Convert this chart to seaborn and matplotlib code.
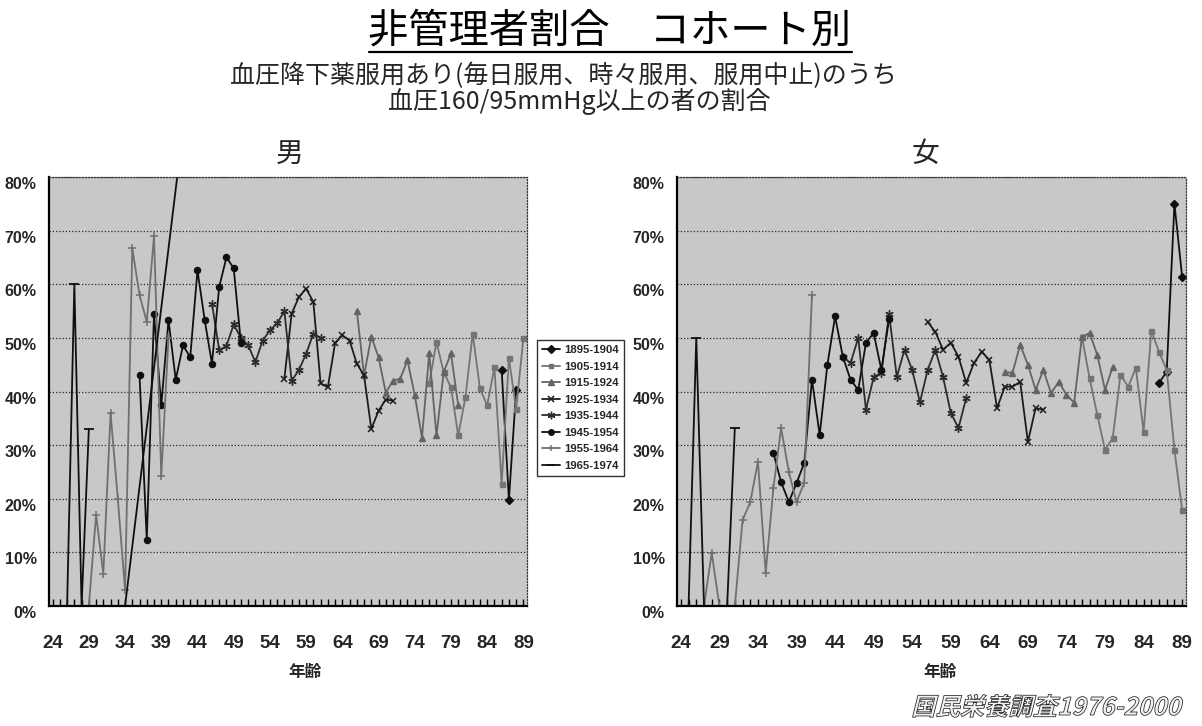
import numpy as np
import pandas as pd
import matplotlib
matplotlib.use("Agg")
import matplotlib.pyplot as plt
import matplotlib.patheffects as pe
import matplotlib.transforms as mtransforms
from matplotlib.lines import Line2D
from matplotlib.ticker import FixedLocator, FuncFormatter
import seaborn as sns

# ---------------------------------------------------------------- data
COHORTS = ["1895-1904", "1905-1914", "1915-1924", "1925-1934",
           "1935-1944", "1945-1954", "1955-1964", "1965-1974"]
AGE_TICKS = [24, 29, 34, 39, 44, 49, 54, 59, 64, 69, 74, 79, 84, 89]
PCT_TICKS = [0, 10, 20, 30, 40, 50, 60, 70, 80]

# each series is a list of segments: (first age, consecutive values in %)
# or ([ages], [values]) for a segment whose points are not on consecutive ages

# men
M_1895 = [(86, [44.1, 19.8, 40.2])]
M_1905 = [(76, [41.5, 49.2, 43.6, 40.8, 31.8, 38.9, 50.8, 40.6, 37.4, 44.5,
                22.8, 46.2, 36.8, 49.9])]
M_1915 = [(66, [55.1, 43.0, 50.2, 46.4, 39.8, 42.0, 42.4, 45.8, 39.3, 31.4,
                47.1, 31.8, 43.6, 47.1, 37.4])]
M_1925 = [(56, [42.4, 54.5, 57.6, 59.2, 56.7, 41.5, 40.8, 49.0, 50.5, 49.5,
                45.2, 43.0, 33.0, 36.4, 38.5, 38.3])]
M_1935 = [(46, [56.4, 47.7, 48.5, 52.5, 50.0, 48.6, 45.5, 49.5, 51.4, 52.7,
                55.0, 42.0, 44.0, 47.0, 50.8, 50.0])]
M_1945 = [(36, [43.0, 12.3, 54.4, 37.4, 53.3, 42.2, 48.6, 46.4, 62.6, 53.3,
                45.2, 59.5, 65.0, 63.0, 49.0])]
M_1955 = [(29, [0.0, 17.0, 6.0, 36.0, 20.0, 3.0, 66.7, 58.0, 53.0, 69.0,
                24.3, 50.0])]
M_1965 = [(26, [0.0, 60.0, 0.0, 33.0]), ([34, 43], [0.0, 100.0])]

# women
F_1895 = [(86, [41.6, 43.7, 75.0, 61.4])]
F_1905 = [(76, [50.2, 42.5, 35.6, 29.1, 31.3, 43.1, 40.9, 44.4, 32.5, 51.3,
                47.4, 44.0, 29.1, 17.9])]
F_1915 = [(66, [43.6, 43.5, 48.7, 45.0, 40.3, 44.0, 39.7, 41.8, 39.4, 37.9,
                50.2, 50.9, 46.8, 40.3, 44.6])]
F_1925 = [(56, [53.0, 51.1, 47.8, 49.1, 46.5, 41.6, 45.3, 47.4, 45.9, 36.9,
                40.9, 40.9, 41.8, 30.6, 36.9, 36.6])]
F_1935 = [(45, [46.5, 45.3, 50.0, 36.6, 42.7, 43.5, 54.5, 42.7, 47.8, 44.0,
                38.0, 44.0, 47.8, 42.7, 36.0, 33.2, 38.8])]
F_1945 = [(36, [28.5, 23.1, 19.4, 22.9, 26.7, 42.2, 31.9, 45.0, 54.0, 46.5,
                42.2, 40.3, 49.1, 50.9, 44.0, 53.5])]
F_1955 = [(27, [0.0, 9.9, 0.0]),
          (31, [0.0, 16.0, 19.4, 26.9, 6.2, 22.0, 33.2, 25.0, 19.4, 23.0, 58.0])]
F_1965 = [(25, [0.0, 50.0, 0.0]), (30, [0.0, 33.2])]

MEN = [M_1895, M_1905, M_1915, M_1925, M_1935, M_1945, M_1955, M_1965]
WOMEN = [F_1895, F_1905, F_1915, F_1925, F_1935, F_1945, F_1955, F_1965]

# ---------------------------------------------------------------- styles
SERIES_STYLE = {
    "1895-1904": dict(color="#101010", marker="D", ms=4.2, mew=1.0),
    "1905-1914": dict(color="#747474", marker="s", ms=3.6, mew=1.0),
    "1915-1924": dict(color="#646464", marker="^", ms=4.2, mew=1.0),
    "1925-1934": dict(color="#1c1c1c", marker="x", ms=5.0, mew=1.1),
    "1935-1944": dict(color="#2c2c2c", marker=(6, 2, 0), ms=6.0, mew=1.0),
    "1945-1954": dict(color="#101010", marker="o", ms=4.4, mew=1.0),
    "1955-1964": dict(color="#707070", marker="+", ms=5.5, mew=1.1),
    "1965-1974": dict(color="#101010", marker="_", ms=7.0, mew=1.3),
}
PLOT_BG = "#c8c8c8"
CJK = ["Noto Sans CJK JP", "DejaVu Sans"]
NUM = ["Liberation Sans", "DejaVu Sans"]

sns.set_theme(style="white")
plt.rcParams["font.family"] = CJK
plt.rcParams["axes.unicode_minus"] = False


def segment_frame(seg):
    first, vals = seg
    if isinstance(first, (list, tuple)):
        ages = list(first)
    else:
        ages = [first + i for i in range(len(vals))]
    return pd.DataFrame({"age": ages, "value": vals})


def draw_panel(ax, series):
    ax.set_facecolor(PLOT_BG)
    for cohort, segs in zip(COHORTS, series):
        st = SERIES_STYLE[cohort]
        for seg in segs:
            d = segment_frame(seg)
            sns.lineplot(data=d, x="age", y="value", ax=ax, estimator=None,
                         sort=False, legend=False, color=st["color"],
                         lw=1.3, marker=st["marker"], markersize=st["ms"],
                         markeredgewidth=st["mew"],
                         markeredgecolor=st["color"],
                         markerfacecolor=st["color"])
    ax.set_xlim(23.5, 89.5)
    ax.set_ylim(0, 80)
    ax.set_xlabel("")
    ax.set_ylabel("")
    ax.yaxis.set_major_locator(FixedLocator(PCT_TICKS))
    ax.yaxis.set_major_formatter(FuncFormatter(lambda v, p: f"{v:.0f}%"))
    ax.xaxis.set_major_locator(FixedLocator(AGE_TICKS))
    ax.xaxis.set_minor_locator(FixedLocator(np.arange(24, 90)))
    ax.grid(axis="y", which="major", color="#2a2a2a", lw=0.9,
            linestyle=(0, (1, 1.6)))
    ax.set_axisbelow(True)
    for side in ("top", "right"):
        ax.spines[side].set_linestyle((0, (1, 1.4)))
        ax.spines[side].set_color("#3a3a3a")
        ax.spines[side].set_linewidth(0.9)
    for side in ("left", "bottom"):
        ax.spines[side].set_color("black")
        ax.spines[side].set_linewidth(1.6)
    ax.tick_params(axis="x", which="both", direction="in", length=5,
                   width=1.0, color="black", bottom=True, top=False)
    ax.tick_params(axis="x", which="major", pad=21)
    ax.tick_params(axis="y", which="both", length=0, pad=9, left=True)
    for lab in ax.get_xticklabels():
        lab.set_fontfamily(NUM)
        lab.set_fontweight("bold")
        lab.set_fontsize(13.5)
    shift = mtransforms.ScaledTranslation(0, -0.06, ax.figure.dpi_scale_trans)
    for lab in ax.get_yticklabels():
        lab.set_fontfamily(NUM)
        lab.set_fontweight("bold")
        lab.set_fontsize(11.5)
        lab.set_transform(lab.get_transform() + shift)


class SkewedOutline(pe.AbstractPathEffect):
    """Draws text slanted, as a thin outline with a light fill."""

    def __init__(self, angle=14, edge="#202020", face="#f2f2f2", lw=0.55):
        super().__init__()
        self.angle, self.edge, self.face, self.lw = angle, edge, face, lw

    def draw_path(self, renderer, gc, tpath, affine, rgbFace=None):
        pts = affine.transform(tpath.vertices)
        y0 = np.nanmin(pts[:, 1])
        skew = (affine + mtransforms.Affine2D().translate(0, -y0)
                .skew_deg(self.angle, 0).translate(0, y0))
        gc0 = renderer.new_gc()
        gc0.copy_properties(gc)
        gc0.set_foreground(self.edge)
        gc0.set_linewidth(self.lw)
        face = matplotlib.colors.to_rgba(self.face)
        renderer.draw_path(gc0, tpath, skew, face)
        gc0.restore()


W, H = 1202, 726
fig = plt.figure(figsize=(W / 100, H / 100), dpi=100)
fig.patch.set_facecolor("white")


def fx(px):
    return px / W


def fy(py):
    return 1 - py / H


ax_m = fig.add_axes([fx(49), fy(606), fx(478), 429 / H])
ax_f = fig.add_axes([fx(677), fy(606), fx(509), 429 / H])
draw_panel(ax_m, MEN)
draw_panel(ax_f, WOMEN)

# headings
title = fig.text(fx(610), fy(31), "非管理者割合　コホート別", ha="center",
                 va="center", fontsize=29, color="black")
fig.text(fx(563), fy(76), "血圧降下薬服用あり(毎日服用、時々服用、服用中止)のうち",
         ha="center", va="center", fontsize=18)
fig.text(fx(579), fy(101), "血圧160/95mmHg以上の者の割合",
         ha="center", va="center", fontsize=18)
fig.text(fx(290), fy(154), "男", ha="center", va="center", fontsize=20)
fig.text(fx(925), fy(154), "女", ha="center", va="center", fontsize=20)
fig.text(fx(305), fy(672), "年齢", ha="center", va="center", fontsize=12,
         fontweight="bold")
fig.text(fx(940), fy(672), "年齢", ha="center", va="center", fontsize=12,
         fontweight="bold")
fig.text(fx(1180), fy(708), "国民栄養調査1976-2000", ha="right", va="center",
         fontsize=17.5, fontweight="bold", color="#f2f2f2",
         path_effects=[SkewedOutline()])

# legend between the two panels
handles = []
for cohort in COHORTS:
    st = SERIES_STYLE[cohort]
    handles.append(Line2D([], [], color=st["color"], lw=1.3,
                          marker=st["marker"], markersize=st["ms"] * 0.9,
                          markeredgewidth=st["mew"],
                          markeredgecolor=st["color"],
                          markerfacecolor=st["color"]))
leg = fig.legend(handles, COHORTS, loc="upper left",
                 bbox_to_anchor=(fx(537), fy(340)), frameon=True,
                 fancybox=False, edgecolor="black", facecolor="white",
                 borderpad=0.45, labelspacing=0.57, handlelength=1.6,
                 handletextpad=0.35, borderaxespad=0,
                 prop={"family": NUM, "weight": "bold", "size": 8.2})
leg.get_frame().set_linewidth(1.0)

# underline under the main title
fig.canvas.draw()
bb = title.get_window_extent()
fig.add_artist(Line2D([bb.x0 / W, bb.x1 / W], [fy(52), fy(52)],
                      transform=fig.transFigure, color="black", lw=1.6))

fig.savefig("out.png", dpi=100, facecolor="white")
